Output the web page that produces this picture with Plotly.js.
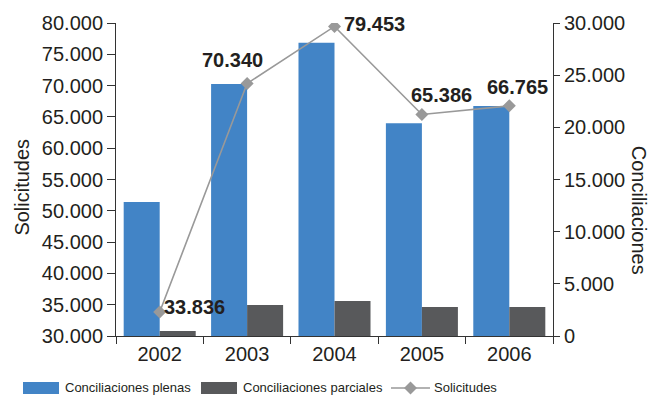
<!DOCTYPE html>
<html>
<head>
<meta charset="utf-8">
<script src="https://cdn.plot.ly/plotly-3.0.1.min.js"></script>
<style>html,body{margin:0;padding:0;background:#fff;}#chart{width:649px;height:400px;}</style>
</head>
<body>
<div id="chart"></div>
<script>
// Data
const years = ['2002', '2003', '2004', '2005', '2006'];
const plenas = [12850, 24150, 28100, 20400, 22050];
const parciales = [480, 2970, 3350, 2780, 2780];
const solicitudes = [33836, 70340, 79453, 65386, 66765];
const solicitudesLabels = ['33.836', '70.340', '79.453', '65.386', '66.765'];
const seriesNames = ['Conciliaciones plenas', 'Conciliaciones parciales', 'Solicitudes'];

// Label offsets (px) for the line value labels
const labelShiftX = [35, -15, 40, 20, 8];
const labelShiftY = [5, 23, 2, 19, 19];

const BLUE = '#4284c6';
const DARK = '#58595b';
const LINE = '#999999';
const TXT = '#231f20';
const AX = '#333333';
const FONT = 'Liberation Sans, Arial, sans-serif';

const traces = [
  {type: 'bar', name: seriesNames[0], x: years, y: plenas, yaxis: 'y',
   marker: {color: BLUE}, hoverinfo: 'skip', showlegend: false},
  {type: 'bar', name: seriesNames[1], x: years, y: parciales, yaxis: 'y',
   marker: {color: DARK}, hoverinfo: 'skip', showlegend: false},
  {type: 'scatter', mode: 'lines+markers', name: seriesNames[2], x: years, y: solicitudes, yaxis: 'y2',
   line: {color: LINE, width: 1.6}, marker: {symbol: 'diamond', size: 10, color: LINE},
   hoverinfo: 'skip', showlegend: false}
];

// value labels (x as category index)
const annotations = years.map((yr, i) => ({
  x: i, y: solicitudes[i], xref: 'x', yref: 'y2',
  text: solicitudesLabels[i], showarrow: false, xanchor: 'center', yanchor: 'middle',
  xshift: labelShiftX[i], yshift: labelShiftY[i],
  font: {family: FONT, size: 20, color: TXT, weight: 'bold'}
}));
// axis titles
annotations.push({
  xref: 'paper', yref: 'paper', x: -0.216, y: 0.476, text: 'Solicitudes', showarrow: false,
  xanchor: 'center', yanchor: 'middle', textangle: -90, font: {family: FONT, size: 20, color: TXT}
});
annotations.push({
  xref: 'paper', yref: 'paper', x: 1.197, y: 0.403, text: 'Conciliaciones', showarrow: false,
  xanchor: 'center', yanchor: 'middle', textangle: 90, font: {family: FONT, size: 20, color: TXT}
});
// legend texts
const legTextX = [-0.1215, 0.2860, 0.7230];
seriesNames.forEach((n, i) => annotations.push({
  xref: 'paper', yref: 'paper', x: legTextX[i], y: -0.166, text: n, showarrow: false,
  xanchor: 'left', yanchor: 'middle', font: {family: FONT, size: 13, color: TXT}
}));

// legend swatches
const shapes = [
  {type: 'rect', xref: 'paper', yref: 'paper', x0: -0.2128, x1: -0.1304, y0: -0.185, y1: -0.147,
   fillcolor: BLUE, line: {width: 0}},
  {type: 'rect', xref: 'paper', yref: 'paper', x0: 0.1945, x1: 0.2769, y0: -0.185, y1: -0.147,
   fillcolor: DARK, line: {width: 0}},
  {type: 'line', xref: 'paper', yref: 'paper', x0: 0.6293, x1: 0.7185, y0: -0.166, y1: -0.166,
   line: {color: LINE, width: 1.6}},
  {type: 'path', xref: 'paper', yref: 'paper', xsizemode: 'pixel', ysizemode: 'pixel',
   xanchor: 0.6739, yanchor: -0.166, path: 'M0,6.5L6.5,0L0,-6.5L-6.5,0Z',
   fillcolor: LINE, line: {width: 0}}
];

const layout = {
  width: 649, height: 400,
  margin: {l: 116, r: 96, t: 23, b: 64},
  paper_bgcolor: '#ffffff', plot_bgcolor: '#ffffff',
  separators: ',.',
  barmode: 'group', bargap: 0.176, bargroupgap: 0,
  font: {family: FONT, color: TXT, size: 20},
  showlegend: false,
  xaxis: {type: 'category', showgrid: false, zeroline: false, showline: true, linecolor: AX, linewidth: 1,
          ticks: 'outside', tickson: 'boundaries', ticklen: 7, tickcolor: AX,
          tickfont: {family: FONT, size: 20, color: TXT}},
  yaxis: {side: 'right', range: [0, 30000], dtick: 5000, tickformat: ',d', showgrid: false, zeroline: false,
          showline: true, linecolor: AX, linewidth: 1, ticks: 'outside', ticklen: 6, tickcolor: AX,
          tickfont: {family: FONT, size: 20, color: TXT}},
  yaxis2: {side: 'left', overlaying: 'y', range: [30000, 80000], dtick: 5000, tickformat: ',d', showgrid: false,
           zeroline: false, showline: true, linecolor: AX, linewidth: 1, ticks: 'outside', ticklen: 8,
           tickcolor: AX, tickfont: {family: FONT, size: 20, color: TXT}},
  annotations: annotations,
  shapes: shapes
};

Plotly.newPlot('chart', traces, layout, {displayModeBar: false, staticPlot: true});
</script>
</body>
</html>
